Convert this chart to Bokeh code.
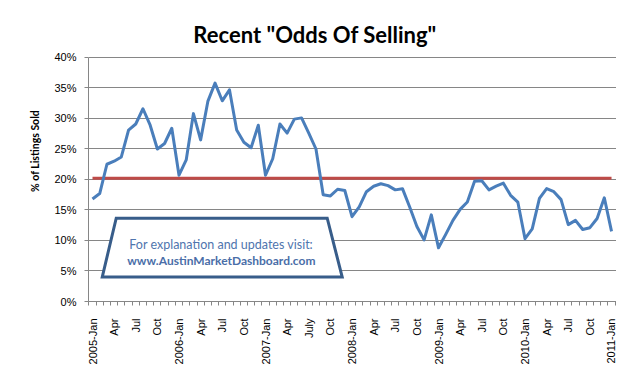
import math
from bokeh.plotting import figure
from bokeh.models import Range1d, FixedTicker, PrintfTickFormatter, Label
from bokeh.embed import file_html
from bokeh.resources import INLINE

# ---- data -------------------------------------------------------------
odds_pct = [
    16.8, 17.7, 22.5, 23.0, 23.7, 28.1, 29.1, 31.6, 28.9, 25.0, 25.9, 28.4,   # 2005
    20.7, 23.2, 30.8, 26.5, 32.8, 35.8, 32.9, 34.7, 28.1, 26.1, 25.2, 28.9,   # 2006
    20.7, 23.4, 29.1, 27.6, 29.9, 30.1, 27.6, 25.0, 17.5, 17.3, 18.4, 18.2,   # 2007
    13.9, 15.5, 18.0, 18.9, 19.3, 19.0, 18.3, 18.5, 15.5, 12.3, 10.1, 14.2,   # 2008
    8.8, 11.0, 13.3, 15.1, 16.3, 19.7, 19.8, 18.3, 18.9, 19.4, 17.4, 16.3,    # 2009
    10.3, 11.9, 16.9, 18.5, 18.0, 16.7, 12.6, 13.3, 11.8, 12.1, 13.6, 17.0,   # 2010
    11.5,                                                                     # 2011-Jan
]
benchmark_pct = 20.2
tick_labels = ["2005-Jan", "Apr", "Jul", "Oct",
               "2006-Jan", "Apr", "Jul", "Oct",
               "2007-Jan", "Apr", "July", "Oct",
               "2008-Jan", "Apr", "Jul", "Oct",
               "2009-Jan", "Apr", "Jul", "Oct",
               "2010-Jan", "Apr", "Jul", "Oct",
               "2011-Jan"]
label_every = 3
y_ticks = [0, 5, 10, 15, 20, 25, 30, 35, 40]
y_axis_max = 40

title_text = 'Recent "Odds Of Selling"'
note_line1 = "For explanation and updates visit:"
note_line2 = "www.AustinMarketDashboard.com"
note_box_x = [1.35, 3.29, 32.56, 34.64]
note_box_y = [4.0, 13.66, 13.66, 4.0]

# ---- figure -----------------------------------------------------------
n = len(odds_pct)
months = list(range(n))

# the frame also covers the title area; the y axis itself stops at 40 %
p = figure(width=616, height=369, output_backend="svg", toolbar_location=None,
           x_range=Range1d(-0.555, 72.69), y_range=Range1d(0, 49.344),
           min_border_left=88, min_border_right=0, min_border_top=0,
           min_border_bottom=68)
p.outline_line_color = None
p.background_fill_color = "white"
p.border_fill_color = "white"

# grid
p.xgrid.visible = False
p.ygrid.ticker = FixedTicker(ticks=y_ticks)
p.ygrid.grid_line_color = "#868686"
p.ygrid.grid_line_width = 1

# x axis
xa = p.xaxis[0]
xa.ticker = FixedTicker(ticks=[i * label_every for i in range(len(tick_labels))],
                        minor_ticks=[m - 0.5 for m in range(n + 1)])
xa.major_label_overrides = {i * label_every: lab for i, lab in enumerate(tick_labels)}
xa.major_label_orientation = math.pi / 2
xa.major_tick_out = 0
xa.major_tick_in = 0
xa.minor_tick_out = 4
xa.minor_tick_in = 0
xa.minor_tick_line_color = "#868686"
xa.axis_line_color = "#868686"
xa.major_label_standoff = 13
xa.major_label_text_font = "Liberation Sans"
xa.major_label_text_font_size = "11px"
xa.major_label_text_color = "black"

# y axis
ya = p.yaxis[0]
ya.bounds = (0, y_axis_max)
ya.ticker = FixedTicker(ticks=y_ticks)
ya.formatter = PrintfTickFormatter(format="%d%%")
ya.major_tick_out = 4
ya.major_tick_in = 0
ya.minor_tick_out = 0
ya.minor_tick_in = 0
ya.major_tick_line_color = "#868686"
ya.axis_line_color = "#868686"
ya.major_label_standoff = 8
ya.major_label_text_font = "Liberation Sans"
ya.major_label_text_font_size = "11px"
ya.major_label_text_color = "black"
ya.axis_label = "% of Listings Sold"
ya.axis_label_text_font = "Lato"
ya.axis_label_text_font_style = "bold"
ya.axis_label_text_font_size = "10.5px"
ya.axis_label_text_color = "black"
ya.axis_label_standoff = 10

# title
p.add_layout(Label(x=30.87, y=43.72, text=title_text, text_align="center",
                   text_baseline="alphabetic", text_font="Lato",
                   text_font_style="bold", text_font_size="22px",
                   text_color="black"))

# series
p.line(months, [benchmark_pct] * n, line_color="#BE4B48", line_width=3)
p.line(months, odds_pct, line_color="#4A7EBB", line_width=3, line_join="round")

# note box
p.patch(note_box_x, note_box_y, fill_color="white", line_color="#385D8A",
        line_width=3, line_join="miter")
p.add_layout(Label(x=17.87, y=9.3, text=note_line1, text_align="center",
                   text_baseline="alphabetic", text_font="Lato",
                   text_font_size="12.5px", text_color="#4F75AE"))
p.add_layout(Label(x=17.87, y=6.72, text=note_line2, text_align="center",
                   text_baseline="alphabetic", text_font="Lato",
                   text_font_style="bold", text_font_size="12px",
                   text_color="#4A6EA8"))

open("out.html", "w").write(file_html(p, INLINE))
